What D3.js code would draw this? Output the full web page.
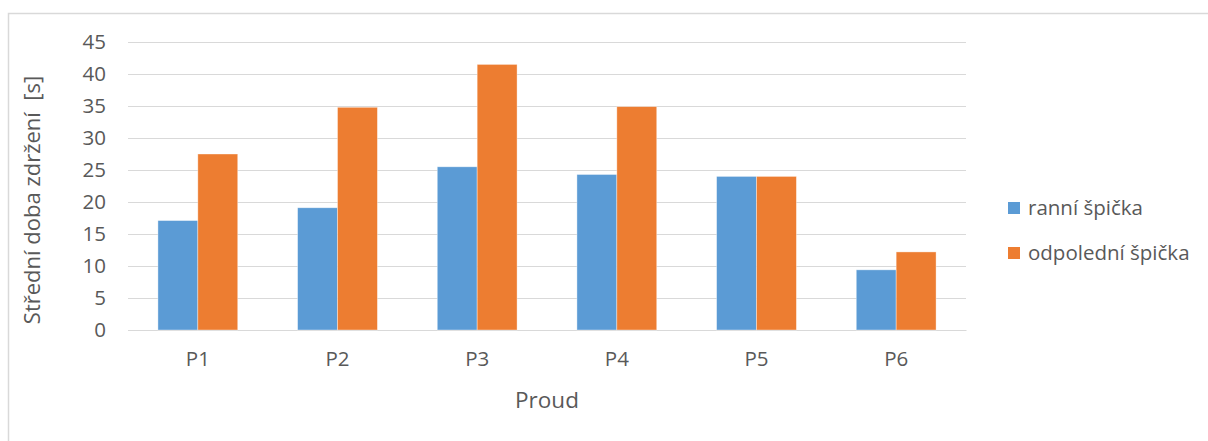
<!DOCTYPE html>
<html>
<head>
<meta charset="utf-8">
<script src="https://cdn.jsdelivr.net/npm/d3@7"></script>
<style>
  html, body { margin: 0; padding: 0; background: #fff; }
  svg text { font-family: "Open Sans", "Noto Sans", sans-serif; fill: #595959; white-space: pre; }
</style>
</head>
<body>
<svg id="chart" width="1208" height="441"></svg>
<script>
// Average delay per traffic stream, morning vs. afternoon peak
const categories = ["P1", "P2", "P3", "P4", "P5", "P6"];
const seriesNames = ["ranní špička", "odpolední špička"];
const morningPeak = [17.1, 19.1, 25.5, 24.3, 24.0, 9.4];
const afternoonPeak = [27.5, 34.8, 41.5, 34.9, 24.0, 12.2];
const yTicks = [0, 5, 10, 15, 20, 25, 30, 35, 40, 45];
const colors = ["#5B9BD5", "#ED7D31"];

const svg = d3.select("#chart");
const plot = { left: 128, right: 966, top: 42, bottom: 330 };

// outer chart frame
svg.append("rect")
  .attr("x", 8.5).attr("y", 13.5)
  .attr("width", 1210).attr("height", 440)
  .attr("fill", "none").attr("stroke", "#d9d9d9").attr("stroke-width", 1.5);

const y = d3.scaleLinear().domain([0, 45]).range([plot.bottom, plot.top]);
const x0 = d3.scaleBand().domain(categories).range([plot.left, plot.right]).padding(0);
const x1 = d3.scaleBand().domain(seriesNames).range([0, x0.bandwidth()])
  .paddingInner(0).paddingOuter(0.75);

// gridlines + tick labels
const yAxis = d3.axisLeft(y).tickValues(yTicks)
  .tickSize(-(plot.right - plot.left)).tickPadding(22);
const gy = svg.append("g").attr("transform", `translate(${plot.left},0)`).call(yAxis);
gy.select(".domain").remove();
gy.selectAll(".tick line").attr("stroke", "#d9d9d9").attr("stroke-width", 1.2);
gy.selectAll(".tick text").attr("font-size", 20.5).attr("fill", "#595959");

// category axis
const xAxis = d3.axisBottom(x0).tickSize(0).tickPadding(21);
const gx = svg.append("g").attr("transform", `translate(0,${plot.bottom})`).call(xAxis);
gx.select(".domain").attr("stroke", "#d9d9d9").attr("stroke-width", 1.2);
gx.selectAll(".tick text").attr("font-size", 20.5).attr("fill", "#595959");

// bars
const rows = categories.map((c, i) => ({ cat: c, values: [morningPeak[i], afternoonPeak[i]] }));
const groups = svg.append("g").selectAll("g").data(rows).join("g")
  .attr("transform", d => `translate(${x0(d.cat)},0)`);
groups.selectAll("rect")
  .data(d => d.values.map((v, k) => ({ name: seriesNames[k], value: v, k })))
  .join("rect")
  .attr("x", d => x1(d.name))
  .attr("y", d => y(d.value))
  .attr("width", x1.bandwidth())
  .attr("height", d => y(0) - y(d.value))
  .attr("fill", d => colors[d.k])
  .attr("stroke", "#ffffff").attr("stroke-opacity", 0.5).attr("stroke-width", 0.75);

// axis titles
svg.append("text")
  .attr("x", (plot.left + plot.right) / 2).attr("y", 408)
  .attr("text-anchor", "middle").attr("font-size", 22.5)
  .text("Proud");
svg.append("text")
  .attr("transform", "translate(40,200) rotate(-90)")
  .attr("text-anchor", "middle").attr("font-size", 22)
  .text("Střední doba zdržení  [s]");

// legend
const legend = svg.append("g").attr("transform", "translate(1008,0)");
seriesNames.forEach((name, k) => {
  const cy = 208 + k * 45;
  legend.append("rect").attr("x", 0).attr("y", cy - 6).attr("width", 12).attr("height", 12)
    .attr("fill", colors[k]);
  legend.append("text").attr("x", 20).attr("y", cy).attr("dy", "0.35em")
    .attr("font-size", 20.5).text(name);
});
</script>
</body>
</html>
